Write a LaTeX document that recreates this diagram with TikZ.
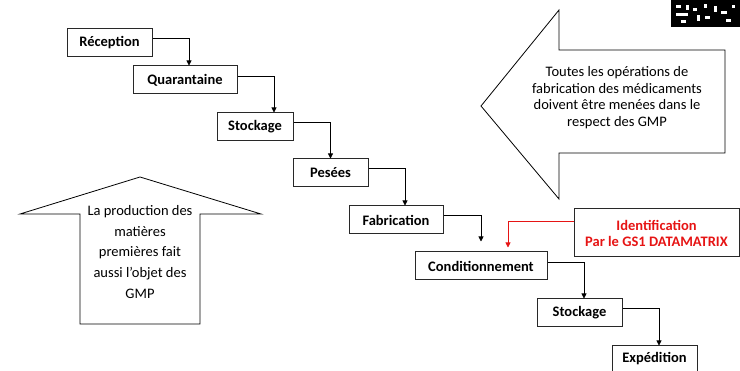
\documentclass[tikz,border=0pt]{standalone}
\usepackage{fontspec}
\setmainfont{Carlito}
\usetikzlibrary{arrows.meta}
\definecolor{idred}{RGB}{230,20,20}
\definecolor{boxgray}{RGB}{40,40,40}
\tikzset{
  stepbox/.style={draw=boxgray, line width=1pt, rectangle, minimum height=28pt, inner sep=0pt, font=\fontsize{14.5}{16}\selectfont\bfseries},
  conn/.style={draw=black, line width=0.8pt, -{Triangle[length=5pt,width=5pt]}},
  redconn/.style={draw=idred, line width=0.8pt, -{Triangle[length=5pt,width=5pt]}},
  bigarrow/.style={draw=black, line width=0.8pt},
  arrowtext/.style={align=center, inner sep=0pt}
}
\begin{document}
\begin{tikzpicture}[x=1pt,y=-1pt]
\useasboundingbox (0,0) rectangle (740,371);
% data matrix fragment
\fill[black] (671,0) rectangle (740,27);
\fill[white] (676,5) rectangle (681,8);
\fill[white] (676,13) rectangle (688,16);
\fill[white] (686,5) rectangle (689,10);
\fill[white] (693,8) rectangle (697,11);
\fill[white] (697,15) rectangle (700,21);
\fill[white] (704,4) rectangle (707,8);
\fill[white] (705,16) rectangle (710,19);
\fill[white] (714,6) rectangle (717,12);
\fill[white] (721,11) rectangle (727,14);
\fill[white] (726,19) rectangle (731,22);
\fill[white] (681,20) rectangle (686,23);
\fill[white] (732,5) rectangle (735,8);
% steps
\node[stepbox, minimum width=85pt]  (rec)   at (109.5,43) {Réception};
\node[stepbox, minimum width=104pt] (quar)  at (185,80)   {Quarantaine};
\node[stepbox, minimum width=76pt]  (stk1)  at (255,127)  {Stockage};
\node[stepbox, minimum width=75pt]  (pes)   at (330.5,173) {Pesées};
\node[stepbox, minimum width=94pt]  (fab)   at (396,220)  {Fabrication};
\node[stepbox, minimum width=132pt] (cond)  at (481,266)  {Conditionnement};
\node[stepbox, minimum width=85pt]  (stk2)  at (579.5,313) {Stockage};
\node[stepbox, minimum width=85pt, minimum height=26pt]  (exp) at (654.5,359) {Expédition};
\node[stepbox, minimum width=165pt, minimum height=48pt, text=idred, align=center] (ident) at (656.5,233) {Identification\\Par le GS1 DATAMATRIX};
% connectors
\draw[conn] ([yshift=5pt]rec.east)  -| ([xshift=4pt]quar.north);
\draw[conn] ([yshift=4pt]quar.east) -| ([xshift=19pt]stk1.north);
\draw[conn] ([yshift=5pt]stk1.east) -| ([xshift=0pt]pes.north);
\draw[conn] ([yshift=5pt]pes.east)  -| ([xshift=9pt]fab.north);
\draw[conn] ([yshift=5pt]fab.east)  -| ([yshift=10pt]cond.north);
\draw[conn] ([yshift=4pt]cond.east) -| ([xshift=4.5pt]stk2.north);
\draw[conn] ([yshift=5pt]stk2.east) -| ([xshift=4.5pt]exp.north);
\draw[redconn] ([yshift=12pt]ident.west) -| ([xshift=27pt,yshift=4pt]cond.north);
% left-pointing big arrow
\draw[bigarrow] (481,106) -- (559,10) -- (559,50) -- (725,50) -- (725,153) -- (559,153) -- (559,199) -- cycle;
\node[arrowtext, font=\fontsize{14.5}{16.7}\selectfont] (gmp1) at (617,97.5) {Toutes les opérations de\\fabrication des médicaments\\doivent être menées dans le\\respect des GMP};
% up-pointing big arrow
\draw[bigarrow] (140,177) -- (261,214) -- (200,214) -- (200,324) -- (80,324) -- (80,214) -- (20,214) -- cycle;
\node[arrowtext, font=\fontsize{14.5}{20.8}\selectfont] (gmp2) at (140,252) {La production des\\matières\\premières fait\\aussi l’objet des\\GMP};
\end{tikzpicture}
\end{document}
